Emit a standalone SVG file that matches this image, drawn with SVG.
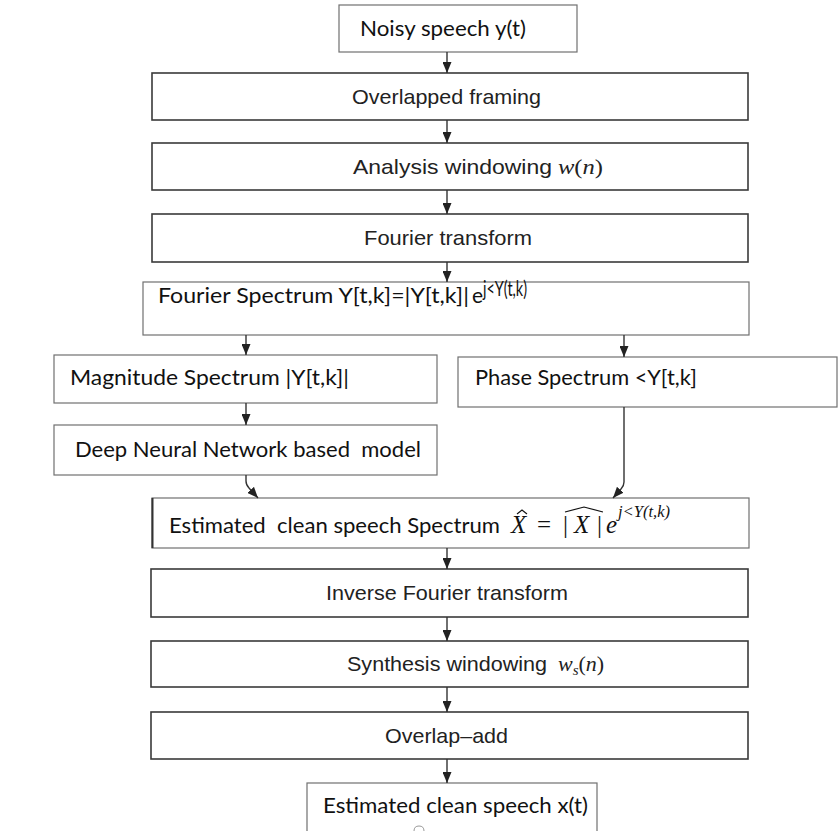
<svg xmlns="http://www.w3.org/2000/svg" width="840" height="831" viewBox="0 0 840 831">
<defs>
<marker id="ah" markerWidth="11" markerHeight="9" refX="11" refY="4.5" orient="auto" markerUnits="userSpaceOnUse"><path d="M0,0 L11,4.5 L0,9 z" fill="#222"/></marker>
<style>
.sbox{fill:#fff;stroke:#3a3a3a;stroke-width:1.6}
.cbox{fill:#fff;stroke:#707070;stroke-width:1.2}
.st{font-family:"Liberation Sans",Arial,sans-serif;font-size:21px;fill:#222}
.ct{font-family:Lato,"Liberation Sans",sans-serif;font-size:21px;fill:#111}
.mt{font-family:"Liberation Serif","Times New Roman",serif;font-style:italic;fill:#111}
.mu{font-family:"Liberation Serif","Times New Roman",serif;fill:#111}
.conn{fill:none;stroke:#333;stroke-width:1.4;marker-end:url(#ah)}
</style>
</defs>
<rect width="840" height="831" fill="#fff"/>
<g id="noisy"><rect class="cbox" x="339" y="5" width="238" height="47"/><text class="ct" x="360" y="36" textLength="166" lengthAdjust="spacingAndGlyphs">Noisy speech y(t)</text></g>
<g id="framing"><rect class="sbox" x="152" y="73" width="596" height="47"/><text class="st" x="352" y="104" textLength="189" lengthAdjust="spacingAndGlyphs">Overlapped framing</text></g>
<g id="analysis"><rect class="sbox" x="152" y="143" width="596" height="47"/><text class="st" x="353" y="174" textLength="199" lengthAdjust="spacingAndGlyphs">Analysis windowing</text><text x="558" y="174" font-family="Liberation Serif,serif" font-size="22" fill="#222" textLength="45" lengthAdjust="spacingAndGlyphs"><tspan font-style="italic">w</tspan>(<tspan font-style="italic">n</tspan>)</text></g>
<g id="ft"><rect class="sbox" x="152" y="214" width="596" height="48"/><text class="st" x="364" y="245" textLength="168" lengthAdjust="spacingAndGlyphs">Fourier transform</text></g>
<g id="spectrum"><rect class="cbox" x="143" y="282" width="606" height="53"/><text class="ct" x="158" y="303" textLength="311" lengthAdjust="spacingAndGlyphs">Fourier Spectrum Y[t,k]=|Y[t,k]|</text><text class="ct" x="472" y="303">e</text><text class="ct" x="483" y="296" font-size="13" textLength="44" lengthAdjust="spacingAndGlyphs">j&lt;Y(t,k)</text></g>
<g id="magnitude"><rect class="cbox" x="54" y="355" width="383" height="48"/><text class="ct" x="70" y="385" textLength="279" lengthAdjust="spacingAndGlyphs">Magnitude Spectrum |Y[t,k]|</text></g>
<g id="phase"><rect class="cbox" x="458" y="357" width="379" height="50"/><text class="ct" x="475" y="385" textLength="222" lengthAdjust="spacingAndGlyphs">Phase Spectrum &lt;Y[t,k]</text></g>
<g id="dnn"><rect class="cbox" x="54" y="425" width="383" height="50"/><text class="ct" x="75" y="457" textLength="346" lengthAdjust="spacingAndGlyphs" xml:space="preserve">Deep Neural Network based  model</text></g>
<g id="estspec"><rect class="cbox" x="152" y="498" width="597" height="50"/><line x1="152.5" y1="498" x2="152.5" y2="548" stroke="#333" stroke-width="2"/>
<text class="ct" x="169" y="533" textLength="331" lengthAdjust="spacingAndGlyphs" xml:space="preserve">Estimated  clean speech Spectrum</text>
<text class="mt" x="511" y="533" font-size="25">X</text><polyline points="517,514 522,510 527,514" fill="none" stroke="#111" stroke-width="1.2"/>
<text class="mu" x="537" y="533" font-size="25">=</text>
<text class="mu" x="563" y="533" font-size="25">|</text><text class="mt" x="574" y="533" font-size="25">X</text><text class="mu" x="597" y="533" font-size="25">|</text><polyline points="565,512 584,507 603,512" fill="none" stroke="#111" stroke-width="1.2"/>
<text class="mt" x="606" y="533" font-size="25">e</text>
<text class="mt" x="618" y="517" font-size="17" textLength="52" lengthAdjust="spacingAndGlyphs">j&lt;Y(t,k)</text></g>
<g id="ift"><rect class="sbox" x="151" y="569" width="597" height="48"/><text class="st" x="326" y="600" textLength="242" lengthAdjust="spacingAndGlyphs">Inverse Fourier transform</text></g>
<g id="synthesis"><rect class="sbox" x="151" y="641" width="597" height="46"/><text class="st" x="347" y="671" textLength="200" lengthAdjust="spacingAndGlyphs">Synthesis windowing</text><text x="558" y="671" font-family="Liberation Serif,serif" font-size="22" fill="#222"><tspan font-style="italic">w</tspan><tspan font-style="italic" font-size="15" dy="4">s</tspan><tspan dy="-4">(</tspan><tspan font-style="italic">n</tspan>)</text></g>
<g id="ola"><rect class="sbox" x="151" y="712" width="597" height="47"/><text class="st" x="385" y="743" textLength="123" lengthAdjust="spacingAndGlyphs">Overlap–add</text></g>
<g id="final"><rect class="cbox" x="307" y="783" width="290" height="60"/><text class="ct" x="323" y="813" textLength="265" lengthAdjust="spacingAndGlyphs">Estimated clean speech x(t)</text><path d="M414,831 Q414,826 419,826 Q424,826 424,831" fill="none" stroke="#999" stroke-width="1"/></g>
<g id="connectors">
<path class="conn" d="M447,52 V73"/>
<path class="conn" d="M447,120 V143"/>
<path class="conn" d="M447,190 V214"/>
<path class="conn" d="M447,262 V282"/>
<path class="conn" d="M246,335 V355"/>
<path class="conn" d="M624,335 V357"/>
<path class="conn" d="M246,403 V425"/>
<path class="conn" d="M246,475 V481 Q246,485 249,488 L258,498"/>
<path class="conn" d="M624,407 V482 Q624,486 621,489 L613,498"/>
<path class="conn" d="M447,548 V569"/>
<path class="conn" d="M447,617 V641"/>
<path class="conn" d="M447,687 V712"/>
<path class="conn" d="M447,759 V783"/>
</g>
</svg>
